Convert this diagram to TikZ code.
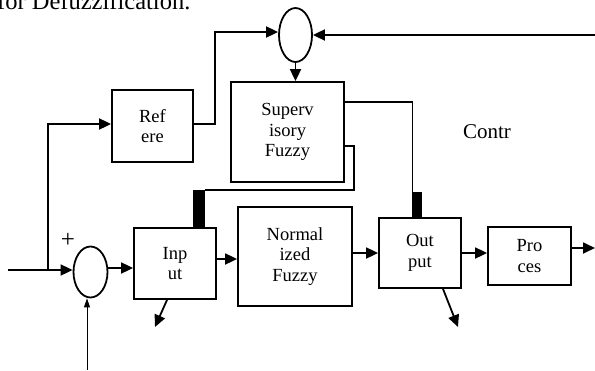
\documentclass[tikz,border=0pt]{standalone}
\usepackage{fontspec}
\setmainfont{Liberation Serif}
\usetikzlibrary{arrows.meta,shapes.geometric,calc}
\begin{document}
\begin{tikzpicture}[x=1pt,y=-1pt,
  blk/.style={draw,line width=1.8pt,rectangle,align=center,inner sep=0pt,
    font=\fontsize{18.5}{20.5}\selectfont},
  sumnode/.style={draw,line width=1.8pt,ellipse,inner sep=0pt},
  wire/.style={line width=1.8pt},
  arr/.style={line width=1.8pt,-{Triangle[length=12pt,width=11pt]}},
  thinwire/.style={line width=1.2pt},
  bar/.style={fill=black,draw=none}]
\useasboundingbox (0,0) rectangle (595,370);
\clip (0,0) rectangle (595,370);

% heading line, running off the top edge
\node[anchor=base west,inner sep=0pt,font=\fontsize{24.5}{27}\selectfont] (head) at (-3,9.5) {for Defuzzification.};

% blocks
\node[blk,minimum width=81pt,minimum height=72pt] (ref) at (152.5,126) {Ref\\ere};
\node[blk,minimum width=113pt,minimum height=100pt] (sup) at (287.5,132) {Superv\\isory\\Fuzzy};
\node[blk,minimum width=82pt,minimum height=71pt] (inp) at (175,263.5) {Inp\\ut};
\node[blk,minimum width=114pt,minimum height=99pt] (norm) at (295,256.5) {Normal\\ized\\Fuzzy};
\node[blk,minimum width=82pt,minimum height=70pt] (out) at (420,253) {Out\\put};
\node[blk,minimum width=83pt,minimum height=58pt] (proc) at (529.5,256) {Pro\\ces};

% summing junctions
\node[sumnode,minimum width=34pt,minimum height=51pt] (sum) at (90.5,272) {};
\node[sumnode,minimum width=33pt,minimum height=54pt] (top) at (295.5,35) {};

% labels
\node[font=\fontsize{21}{23}\selectfont] (contr) at (487,132) {Contr};
\node[font=\fontsize{25}{27}\selectfont,inner sep=0pt] (plus) at (68,240) {+};

% free ends
\coordinate (in) at (8,270);
\coordinate (split) at (48,270);
\coordinate (fb) at (595,35);
\coordinate (procout) at (595,248);
\coordinate (bot) at (87,370);
\coordinate (inpdown) at (155,327);
\coordinate (outdown) at (458,327);

% main input and branch to reference block
\draw[wire] (in) -- (split);
\draw[arr] (split) -- (sum.west |- split);
\draw[arr] (split) |- (ref.west |- 0,124);

% reference block to upper junction
\draw[arr] (ref.east |- 0,124) -- (215,124) |- (top.west |- 0,32);
% feedback into upper junction
\draw[arr] (fb) -- (top.east |- fb);
% upper junction to supervisory block
\draw[arr] (top.south) -- (sup.north -| top.south);

% supervisory outputs to the input and output blocks
\fill[bar] (193,190) rectangle (205,228);
\fill[bar] (412,192) rectangle (422,218);
\draw[thinwire] (sup.east |- 0,146) -- (354,146) -- (354,190) -- (205,190);
\draw[thinwire] (sup.east |- 0,102) -- (412.6,102) -- (412.6,192);

% forward path
\draw[arr] (sum.east |- 0,268) -- (inp.west |- 0,268);
\draw[arr] (inp.east |- 0,259) -- (norm.west |- 0,259);
\draw[arr] (norm.east |- 0,253) -- (out.west |- 0,253);
\draw[arr] (out.east |- 0,253) -- (proc.west |- 0,253);
\draw[arr] (proc.east |- procout) -- (procout);

% side outputs
\draw[arr] (inp.south -| 167,0) -- (inpdown);
\draw[arr] (out.south -| 443,0) -- (outdown);

% lower input to the summing junction
\draw[line width=1pt,-{Triangle[length=9pt,width=6pt]}] (bot) -- (sum.south -| bot);
\end{tikzpicture}
\end{document}
